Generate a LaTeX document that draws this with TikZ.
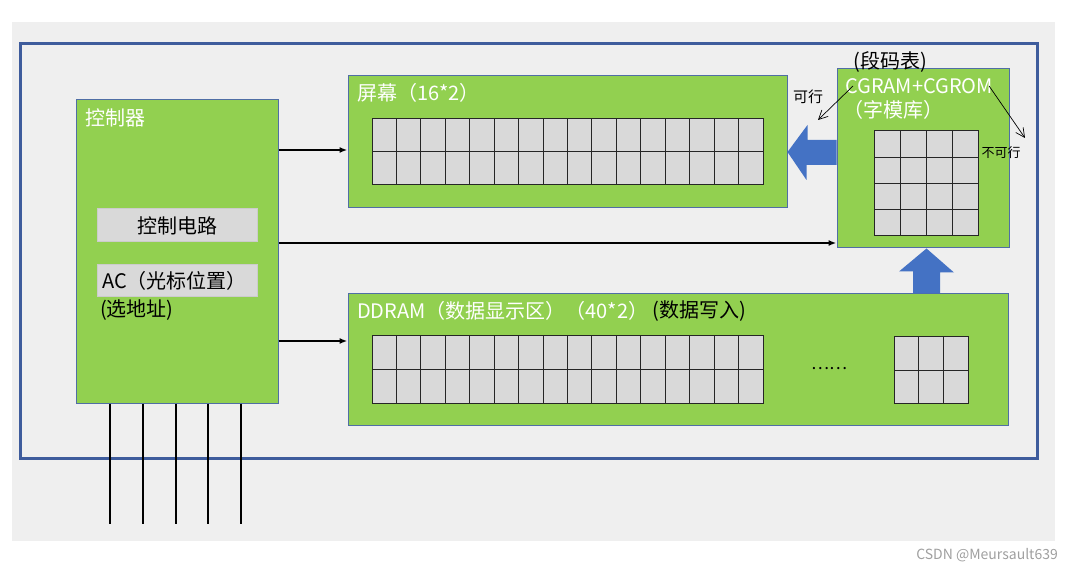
\documentclass[tikz,border=0pt]{standalone}
\usepackage{fontspec}
\setmainfont{Noto Sans CJK SC}
\usetikzlibrary{arrows.meta, positioning, calc}
\definecolor{panelgreen}{RGB}{146,208,80}
\definecolor{edgeblue}{RGB}{80,110,165}
\definecolor{frameblue}{RGB}{62,92,156}
\definecolor{arrowblue}{RGB}{68,114,196}
\definecolor{bggray}{RGB}{239,239,239}
\definecolor{cellgray}{RGB}{217,217,217}
\tikzset{
	panel/.style={rectangle, draw=edgeblue, fill=panelgreen, line width=1pt, inner sep=0pt},
	subbox/.style={rectangle, draw=gray!40, fill=cellgray, line width=1pt, inner sep=0pt, font=\fontsize{20}{23}\selectfont},
	title/.style={text=white, font=\fontsize{20}{23}\selectfont, inner sep=0pt, anchor=west},
	note/.style={text=black, font=\fontsize{20}{23}\selectfont, inner sep=0pt},
	cell/.style={draw=black!85, fill=cellgray, line width=1pt},
	bus/.style={-{Latex[length=8pt, width=6pt]}, line width=1.8pt, draw=black},
	pin/.style={line width=2pt, draw=black},
	blockarrow/.style={fill=arrowblue},
	pen/.style={-{Straight Barb[length=9pt, width=9pt]}, line width=0.7pt, draw=black},
}
\begin{document}
\begin{tikzpicture}[x=1pt, y=-1pt]
	\useasboundingbox (0,0) rectangle (1072,572);
	\fill[bggray] (12,22) rectangle (1055,541);
	\draw[frameblue, line width=3pt] (20,44) rectangle (1037,458);
	% controller
	\node[panel, minimum width=202pt, minimum height=303pt] (ctrl) at (177,251.5) {};
	\node[title] (ctrltitle) at (85,118) {控制器};
	\node[subbox, minimum width=160pt, minimum height=33pt] (circuit) at (177,225.5) {控制电路};
	\node[subbox, minimum width=160pt, minimum height=32pt] (acbox) at (177,281) {};
	\node[anchor=west, inner sep=0pt, font=\fontsize{20}{23}\selectfont] (actext) at (102,281) {AC（光标位置）};
	\node[note, anchor=north west] (addrnote) at (100,300) {(选地址)};
	\foreach \x in {110,143,176,208,241}
		\draw[pin] (ctrl.south -| \x,0) -- (\x,524);
	% screen
	\node[panel, minimum width=439pt, minimum height=132pt] (screen) at (567.5,142) {};
	\node[title] (screentitle) at (357,93) {屏幕（16*2）};
	\foreach \i in {0,...,15}
		\foreach \j in {0,1}
			\draw[cell] ({372+24.44*\i},{119+33*\j}) rectangle ++(24.44,33);
	% ddram
	\node[panel, minimum width=660pt, minimum height=131pt] (ddram) at (678,359.5) {};
	\node[title] (ddramtitle) at (357,311) {DDRAM（数据显示区）（40*2）};
	\node[note, right=4pt of ddramtitle] (writenote) {(数据写入)};
	\foreach \i in {0,...,15}
		\foreach \j in {0,1}
			\draw[cell] ({372+24.44*\i},{336+33.5*\j}) rectangle ++(24.44,33.5);
	\node[inner sep=0pt, font=\fontsize{17}{20}\selectfont] (dots) at (829,369) {……};
	\foreach \i in {0,1,2}
		\foreach \j in {0,1}
			\draw[cell] ({894+24.67*\i},{337+33*\j}) rectangle ++(24.67,33);
	% cgram
	\node[panel, minimum width=172pt, minimum height=179pt] (cgram) at (923,158.5) {};
	\node[title] (cgramtitle) at (845,86) {CGRAM+CGROM};
	\node[title] (fonttitle) at (843,110) {（字模库）};
	\foreach \i in {0,...,3}
		\foreach \j in {0,...,3}
			\draw[cell] ({874+26*\i},{131+26.25*\j}) rectangle ++(26,26.25);
	% connectors
	\draw[bus] (ctrl.east |- 0,150) -- (screen.west |- 0,150);
	\draw[bus] (ctrl.east |- 0,243) -- (cgram.west |- 0,243);
	\draw[bus] (ctrl.east |- 0,341) -- (ddram.west |- 0,341);
	\fill[blockarrow] (screen.east |- 0,152) -- ++(20,-27) -- ++(0,15) -- (cgram.west |- 0,140)
		-- (cgram.west |- 0,165) -- ++(-30,0) -- ++(0,15) -- cycle;
	\fill[blockarrow] (cgram.south -| 926.5,0) -- ++(27.5,24) -- ++(-14,0) -- (ddram.north -| 940,0)
		-- (ddram.north -| 913,0) -- ++(0,-22) -- ++(-14,0) -- cycle;
	% pen notes
	\node[note] (segnote) at (890,62) {(段码表)};
	\node[note, font=\fontsize{15}{18}\selectfont] (oknote) at (808,97) {可行};
	\node[note, font=\fontsize{13}{16}\selectfont] (nonote) at (1001,153) {不可行};
	\coordinate (penl) at (818,120);
	\coordinate (penr) at (1025,138);
	\draw[pen] ([xshift=8pt]cgramtitle.west) -- (penl);
	\draw[pen] ([xshift=-4pt]cgramtitle.east) -- (penr);
	\node[anchor=east, inner sep=0pt, text=gray!75, font=\fontsize{14}{16}\selectfont] (mark) at (1058,555) {CSDN @Meursault639};
\end{tikzpicture}
\end{document}
